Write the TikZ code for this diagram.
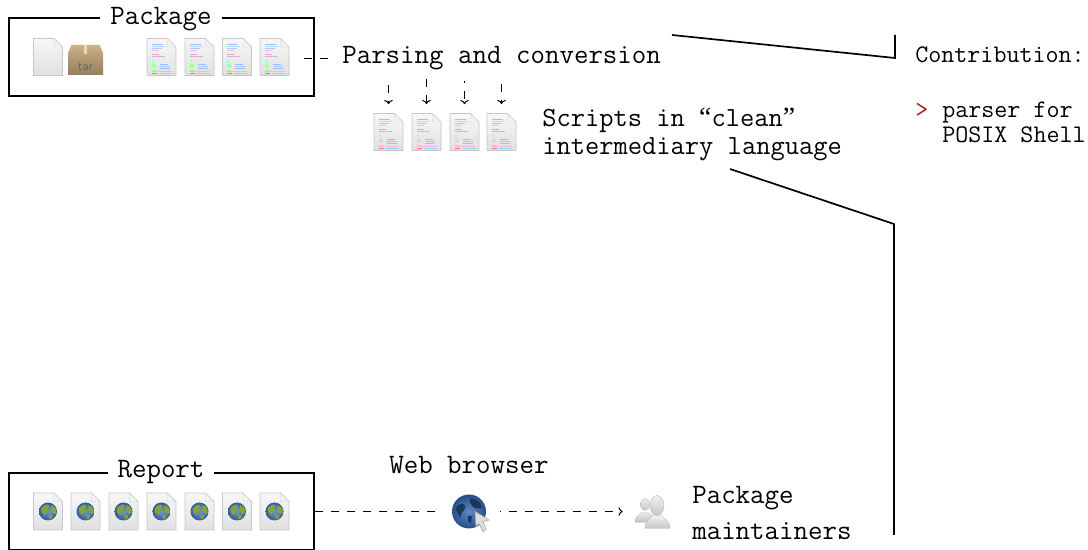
\documentclass[tikz,border=0pt]{standalone}
\usepackage{amsmath}
\usepackage{fontspec}
\setmonofont{Latin Modern Mono}
\newfontfamily\quotefont{Liberation Serif}
\usetikzlibrary{arrows.meta}
\definecolor{mark}{rgb}{0.67,0.12,0.16}
\definecolor{cardboard}{rgb}{0.78,0.66,0.48}
\definecolor{earth}{rgb}{0.22,0.42,0.72}
\definecolor{land}{rgb}{0.52,0.64,0.22}
\definecolor{sea}{rgb}{0.18,0.36,0.62}
\tikzset{
	x=0.025cm, y=-0.025cm,
	lbl/.style={font=\ttfamily\fontsize{20}{20}\selectfont, inner sep=0, anchor=west, align=left},
	smalllbl/.style={font=\ttfamily\fontsize{18}{17.6}\selectfont, inner sep=0, anchor=west, align=left},
	frametitle/.style={font=\ttfamily\fontsize{20}{20}\selectfont, fill=white, inner xsep=0.25cm, inner ysep=0},
	framebox/.style={draw, line width=1.2pt, minimum width=7.625cm, inner sep=0},
	flow/.style={line width=0.7pt, dash pattern=on 5.7pt off 5.7pt},
	droptip/.style={-{To[length=3pt, width=6pt]}},
	edgeline/.style={line width=1.2pt, line join=miter},
	sheet/.style={top color=gray!6, bottom color=gray!24, draw=gray!45, line width=0.4pt},
	pics/blankpage/.style={code={
		\node[minimum width=0.725cm, minimum height=0.925cm, inner sep=0] (-body) at (0,0) {};
		\path[sheet] (-14.5,-18.5) -- (6,-18.5) -- (14.5,-10) -- (14.5,18.5) -- (-14.5,18.5) -- cycle;
		\path[fill=gray!10, draw=gray!40, line width=0.3pt] (6,-18.5) -- (6,-10) -- (14.5,-10) -- cycle;
	}},
	pics/codepage/.style={code={
		\pic (-in) at (0,0) {blankpage};
		\node[minimum width=0.725cm, minimum height=0.925cm, inner sep=0] (-body) at (0,0) {};
		\foreach \ya/\xa/\xb/\col in {-13/-10/1/blue!30, -11/-10/3/cyan!35, -9/-10/0/blue!25, -7/-10/-3/gray!35,
			-3/-10/-3/magenta!40, -1/-10/3/violet!30, 3/-10/-8/green!40, 5/-10/-7/green!35,
			7/-10/-6/green!40, 7/-2/6/blue!30, 9/-10/-6/green!50, 9/-2/8/cyan!45, 11/-2/8/blue!30,
			13/-10/-6/green!40, 14.5/-10/10/magenta!30, 16/-10/-5/red!55, 16/-3/10/cyan!45}
			\draw[color=\col, line width=0.5pt] (\xa,\ya) -- (\xb,\ya);
	}},
	pics/webpage/.style={code={
		\pic (-in) at (0,0) {blankpage};
		\node[minimum width=0.725cm, minimum height=0.925cm, inner sep=0] (-body) at (0,0) {};
		\shade[inner color=earth!70!white, outer color=earth!85!black] (0,0) circle (9);
		\fill[color=land] (-7,-3) .. controls (-3,-8) and (2,-8) .. (1,-4) .. controls (0,-1) and (-3,1) .. (-3,4) .. controls (-6,3) and (-7,0) .. (-7,-3);
		\fill[color=land] (3,-6) .. controls (7,-6) and (9,-2) .. (8,2) .. controls (6,4) and (4,2) .. (3,0) .. controls (2,-2) and (2,-4) .. (3,-6);
		\fill[color=land] (1,3) -- (5,4) -- (3,8) -- (1,7) -- cycle;
	}},
	pics/tarbox/.style={code={
		\node[minimum width=0.875cm, minimum height=0.75cm, inner sep=0] (-body) at (0,0) {};
		\path[top color=cardboard!90, bottom color=cardboard!75!black] (-17.5,-7) -- (-14,-15) -- (14,-15) -- (17.5,-7) -- (17.5,15) -- (-17.5,15) -- cycle;
		\path[fill=cardboard!45] (-1.5,-15) rectangle (1.5,-6);
		\node[font=\sffamily\fontsize{9}{9}\selectfont, text=black!60, inner sep=0] (-word) at (0,7) {tar};
	}},
	pics/browserglobe/.style={code={
		\node[minimum width=1.55cm, minimum height=1.0cm, inner sep=0] (-body) at (0,0) {};
		\shade[inner color=earth!80!white, outer color=sea!85!black] (0,0) circle (17);
		\fill[color=sea!60!black] (-13,-4) .. controls (-8,-10) and (-3,-8) .. (-4,-3) .. controls (-6,1) and (-9,1) .. (-8,6) .. controls (-11,4) and (-13,0) .. (-13,-4);
		\fill[color=sea!60!black] (1,-13) .. controls (6,-14) and (12,-9) .. (13,-4) .. controls (8,-2) and (5,-3) .. (3,-6) .. controls (1,-8) and (0,-10) .. (1,-13);
		\fill[color=sea!60!black] (-1,4) -- (3,5) -- (2,12) -- (-1,10) -- cycle;
		\path[fill=gray!25, draw=gray!65, line width=0.5pt] (6,0) -- (7,15) -- (10,12) -- (14,20) -- (17,18) -- (14,10) -- (20,8.5) -- cycle;
	}},
	pics/maintainers/.style={code={
		\node[minimum width=1.5cm, minimum height=0.9cm, inner sep=0] (-body) at (0,0) {};
		\path[top color=gray!15, bottom color=gray!50, draw=gray!50, line width=0.3pt] (-18,11) .. controls (-18,4) and (-13,3) .. (-11,1) -- (-5,1) .. controls (-2,3) and (2,4) .. (2,11) -- cycle;
		\path[top color=gray!15, bottom color=gray!45, draw=gray!50, line width=0.3pt] (-8,-7) ellipse (4.5 and 6);
		\path[top color=gray!10, bottom color=gray!45, draw=gray!50, line width=0.3pt] (-8,17) .. controls (-8,8) and (-2,7) .. (0,4) -- (8,4) .. controls (10,7) and (17,8) .. (17,17) -- cycle;
		\path[top color=gray!12, bottom color=gray!45, draw=gray!50, line width=0.3pt] (4,-6) ellipse (7 and 10);
	}},
}

\begin{document}
\begin{tikzpicture}
	\useasboundingbox (0,0) rectangle (1088,550);
	% package frame
	\node[framebox, minimum height=1.95cm] (package) at (161.5,57) {};
	\node[frametitle] (packagetitle) at (161,19.5) {Package};
	\pic (blank) at (48,57) {blankpage};
	\pic (tar) at (85.5,60) {tarbox};
	\foreach \i/\px in {1/161.5, 2/199.5, 3/237, 4/274.5}
		\pic (src\i) at (\px,57) {codepage};

	\node[lbl, inner xsep=0.3cm] (parsing) at (330,58.5) {Parsing and conversion};
	\coordinate (parsingdash) at (304,58.5);
	\draw[flow] (parsingdash) -- (parsing.west);

	% clean scripts
	\foreach \i/\px in {1/388.5, 2/426.5, 3/464.5, 4/501.5}
		\pic (clean\i) at (\px,132) {codepage};
	\coordinate (drop1) at (388.5,85);
	\coordinate (drop2) at (426.5,79);
	\coordinate (drop3) at (464.5,81);
	\coordinate (drop4) at (501.5,84);
	\draw[flow, droptip, shorten >=0.225cm] (drop1) -- (clean1-body.north);
	\draw[flow, droptip, shorten >=0.225cm] (drop2) -- (clean2-body.north);
	\draw[flow, droptip, shorten >=0.225cm, dash phase=4pt] (drop3) -- (clean3-body.north);
	\draw[flow, droptip, shorten >=0.225cm] (drop4) -- (clean4-body.north);
	\node[lbl, font=\ttfamily\fontsize{19.7}{19.7}\selectfont] (scripts) at (542,134.5) {Scripts in {\quotefont “}clean{\quotefont ”}\\intermediary language};

	% contribution side
	\node[smalllbl] (contrib) at (915,55) {Contribution:};
	\node[smalllbl, text=mark] (bullet) at (915,110) {>};
	\node[smalllbl] (parser) at (942,122.5) {parser for\\POSIX Shell};
	\coordinate (upperfrom) at (672,35);
	\coordinate (uppercorner) at (895,58);
	\coordinate (uppertop) at (895,35);
	\coordinate (lowerfrom) at (730,169);
	\coordinate (lowercorner) at (894,224);
	\coordinate (lowerend) at (894,535);
	\draw[edgeline] (upperfrom) -- (uppercorner) -- (uppertop);
	\draw[edgeline] (lowerfrom) -- (lowercorner) -- (lowerend);

	% report frame
	\node[framebox, minimum height=1.925cm] (report) at (161.5,511.5) {};
	\node[frametitle] (reporttitle) at (161,472.5) {Report};
	\foreach \i/\px in {1/48, 2/85.5, 3/123.5, 4/161.5, 5/199.5, 6/237, 7/274.5}
		\pic (web\i) at (\px,511.5) {webpage};

	\pic (browser) at (469,511.5) {browserglobe};
	\node[lbl] (browsername) at (389,465) {Web browser};
	\pic (people) at (653,511.5) {maintainers};
	\node[lbl] (peoplename) at (692,513) {Package\\[0.21cm]maintainers};
	\draw[flow] (report.east) -- (browser-body.west);
	\draw[flow, droptip, dash phase=5.2pt] (browser-body.east) -- (people-body.west);
\end{tikzpicture}
\end{document}
